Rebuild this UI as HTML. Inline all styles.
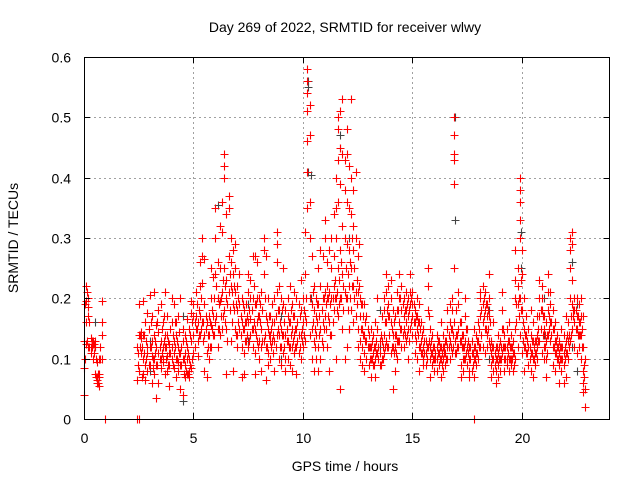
<!DOCTYPE html>
<html><head><meta charset="utf-8"><style>
html,body{margin:0;padding:0;background:#fff;}
svg{display:block;font-family:"Liberation Sans",sans-serif;}
</style></head><body>
<svg id="chart" width="640" height="480" viewBox="0 0 640 480" xmlns="http://www.w3.org/2000/svg">
<rect x="0" y="0" width="640" height="480" fill="#fff"/>
<g id="grid"></g>
<g id="gray"></g>
<g id="red"></g>
<rect x="84.5" y="57.5" width="525" height="362" fill="none" stroke="#000" stroke-width="1"/>
<g id="ticks"></g>
<text x="345" y="32" text-anchor="middle" font-size="14" fill="#000">Day 269 of 2022, SRMTID for receiver wlwy</text>
<text x="345" y="471" text-anchor="middle" font-size="14" fill="#000">GPS time / hours</text>
<text x="0" y="0" transform="translate(18,238) rotate(-90)" text-anchor="middle" font-size="14" fill="#000">SRMTID / TECUs</text>
</svg>
<script>
const xTicks=[0,5,10,15,20];
const yTicks=[0,0.1,0.2,0.3,0.4,0.5,0.6];
const yTickLabels=["0","0.1","0.2","0.3","0.4","0.5","0.6"];
const redHours=[0.0,0.1,0.2,0.3,0.4,0.5,0.6,0.7,0.8,0.96,
2.4,2.5,2.6,2.7,2.8,2.9,3.0,3.1,3.2,3.3,3.4,3.5,3.6,3.7,3.8,3.9,4.0,4.1,4.2,4.3,4.4,4.5,4.6,4.7,4.8,4.9,
5.0,5.1,5.2,5.3,5.4,5.5,5.6,5.7,5.8,5.9,6.0,6.1,6.2,6.3,6.4,6.5,6.6,6.7,6.8,6.9,
7.0,7.1,7.2,7.3,7.4,7.5,7.6,7.7,7.8,7.9,8.0,8.1,8.2,8.3,8.4,8.5,8.6,8.7,8.8,8.9,
9.0,9.1,9.2,9.3,9.4,9.5,9.6,9.7,9.8,9.9,10.0,10.1,10.2,10.3,10.4,10.5,10.6,10.7,10.8,10.9,
11.0,11.1,11.2,11.3,11.4,11.5,11.6,11.7,11.8,11.9,12.0,12.1,12.2,12.3,12.4,12.5,12.6,12.7,12.8,12.9,
13.0,13.1,13.2,13.3,13.4,13.5,13.6,13.7,13.8,13.9,14.0,14.1,14.2,14.3,14.4,14.5,14.6,14.7,14.8,14.9,
15.0,15.1,15.2,15.3,15.4,15.5,15.6,15.7,15.8,15.9,16.0,16.1,16.2,16.3,16.4,16.5,16.6,16.7,16.8,16.9,
17.0,17.1,17.2,17.3,17.4,17.5,17.6,17.7,17.8,17.9,18.0,18.1,18.2,18.3,18.4,18.5,18.6,18.7,18.8,18.9,
19.0,19.1,19.2,19.3,19.4,19.5,19.6,19.7,19.8,19.9,20.0,20.1,20.2,20.3,20.4,20.5,20.6,20.7,20.8,20.9,
21.0,21.1,21.2,21.3,21.4,21.5,21.6,21.7,21.8,21.9,22.0,22.1,22.2,22.3,22.4,22.5,22.6,22.7,22.8,22.9];
const redValues=[[0.04,0.085,0.13],[0.22,0.195,0.16,0.125],[0.185,0.2,0.17,0.12],[0.135,0.12,0.11],[0.13,0.1,0.125],[0.12,0.075,0.13],[0.065,0.07,0.06,0.095],[0.075,0.055,0.07,0.1],[0.16,0.14,0.195,0.1],[0],
[0,0.065,0.12],[0,0.19,0.14,0.08],[0.145,0.11,0.135],[0.195,0.075,0.14,0.1],[0.16,0.065,0.09],[0.175,0.11,0.08,0.12],[0.205,0.12,0.09],[0.17,0.105,0.13,0.06],[0.14,0.21,0.1,0.075],[0.155,0.12,0.09,0.035],[0.18,0.11,0.06,0.145],[0.1,0.19,0.13,0.085],[0.16,0.1,0.12,0.095],[0.21,0.12,0.075,0.14],[0.14,0.105,0.08,0.17],[0.125,0.055,0.09,0.11],[0.2,0.16,0.12,0.1],[0.19,0.13,0.085,0.11],[0.16,0.1,0.07,0.14],[0.17,0.12,0.095,0.08],[0.2,0.11,0.05,0.09],[0.15,0.1,0.04,0.13],[0.14,0.11,0.07,0.09],[0.165,0.12,0.075,0.1],[0.15,0.08,0.07,0.1],[0.195,0.175,0.085,0.13],
[0.19,0.17,0.11,0.14],[0.17,0.21,0.15],[0.16,0.13,0.105],[0.26,0.22,0.17,0.14],[0.3,0.27,0.225,0.16],[0.265,0.19,0.14,0.08],[0.16,0.11,0.07],[0.17,0.14,0.1],[0.25,0.2,0.155,0.12],[0.235,0.17,0.14],[0.35,0.3,0.24,0.16],[0.26,0.2,0.15,0.12],[0.32,0.25,0.195,0.14],[0.36,0.31,0.21,0.15],[0.44,0.42,0.4,0.25,0.18],[0.34,0.23,0.2,0.15,0.075],[0.37,0.35,0.27,0.21],[0.3,0.26,0.22,0.13],[0.28,0.24,0.19,0.08],[0.29,0.25,0.21,0.15],
[0.22,0.18,0.14,0.12],[0.24,0.19,0.15],[0.2,0.16,0.12,0.07],[0.18,0.15,0.11,0.075],[0.19,0.16,0.13],[0.24,0.21,0.16,0.12],[0.23,0.2,0.165,0.14],[0.27,0.2,0.15,0.12],[0.27,0.19,0.15,0.11,0.075],[0.26,0.2,0.16,0.13],[0.2,0.17,0.13,0.1],[0.21,0.15,0.12,0.08],[0.3,0.28,0.24,0.13],[0.27,0.17,0.12,0.065],[0.2,0.15,0.11,0.09],[0.17,0.14,0.13,0.1],[0.19,0.16,0.13],[0.2,0.16,0.13,0.08],[0.31,0.29,0.26,0.21,0.14],[0.22,0.18,0.14,0.1],
[0.2,0.15,0.12,0.09],[0.25,0.19,0.14,0.11],[0.18,0.14,0.1,0.08],[0.2,0.17,0.13,0.1],[0.22,0.16,0.12,0.09],[0.19,0.15,0.12,0.08],[0.21,0.17,0.14,0.11],[0.2,0.15,0.12,0.075],[0.19,0.14,0.11],[0.23,0.18,0.14,0.1],[0.2,0.16,0.12],[0.31,0.24,0.17,0.13],[0.58,0.56,0.54,0.51,0.46,0.41,0.35],[0.52,0.47,0.36,0.3,0.2,0.14],[0.27,0.19,0.15,0.1],[0.22,0.18,0.13,0.08],[0.2,0.17,0.14,0.1],[0.25,0.19,0.12,0.08],[0.28,0.22,0.15,0.1],[0.27,0.2,0.16,0.12],
[0.33,0.3,0.21,0.17],[0.26,0.22,0.2,0.12],[0.28,0.21,0.16,0.08],[0.3,0.25,0.2,0.14],[0.34,0.27,0.22,0.18],[0.4,0.35,0.3,0.2,0.1],[0.5,0.48,0.43,0.36,0.25,0.17],[0.51,0.45,0.39,0.28,0.2,0.05],[0.53,0.44,0.32,0.24,0.15],[0.43,0.38,0.3,0.21,0.1],[0.48,0.44,0.36,0.29,0.2,0.12],[0.42,0.35,0.28,0.22,0.15],[0.53,0.4,0.34,0.25,0.18],[0.38,0.32,0.28,0.22,0.16],[0.41,0.3,0.21,0.17],[0.27,0.21,0.15,0.12],[0.2,0.17,0.13,0.1],[0.19,0.15,0.12,0.09],[0.19,0.14,0.11,0.08],[0.17,0.13,0.1],
[0.14,0.12,0.09],[0.15,0.12,0.1,0.07],[0.14,0.11,0.09],[0.16,0.12,0.1,0.07],[0.2,0.15,0.11],[0.13,0.11,0.09],[0.17,0.13,0.1],[0.2,0.18,0.14,0.11],[0.24,0.21,0.16,0.13],[0.22,0.19,0.17,0.12],[0.23,0.2,0.16,0.11],[0.18,0.14,0.12,0.05],[0.17,0.14,0.12,0.08],[0.21,0.18,0.13,0.1],[0.24,0.2,0.16,0.13],[0.22,0.18,0.15,0.12],[0.2,0.17,0.15,0.12],[0.21,0.18,0.16,0.13],[0.2,0.17,0.15,0.1],[0.24,0.21,0.19,0.15],
[0.21,0.19,0.17,0.14],[0.18,0.16,0.14,0.11],[0.2,0.17,0.15,0.1],[0.19,0.16,0.12,0.08],[0.16,0.13,0.11],[0.15,0.12,0.1,0.09],[0.13,0.11,0.09],[0.25,0.22,0.18,0.12],[0.15,0.12,0.1,0.07],[0.14,0.11,0.09],[0.12,0.1,0.08],[0.14,0.12,0.1,0.08],[0.13,0.11,0.09],[0.16,0.12,0.1,0.07],[0.14,0.12,0.1,0.08],[0.13,0.11,0.09],[0.18,0.15,0.12,0.1],[0.19,0.16,0.13,0.1],[0.2,0.18,0.15,0.11],[0.5,0.47,0.44,0.43,0.39,0.25,0.16],
[0.18,0.14,0.11],[0.21,0.19,0.15,0.12],[0.16,0.13,0.09,0.07],[0.14,0.12,0.1,0.08],[0.2,0.17,0.13,0.1],[0.15,0.12,0.09],[0.12,0.1,0.08,0.07],[0.13,0.11,0.08],[0.15,0.12,0.1,0.07,0],[0.14,0.11,0.09],[0.16,0.13,0.1],[0.21,0.2,0.17,0.12],[0.22,0.19,0.16,0.12],[0.21,0.18,0.15,0.11],[0.19,0.17,0.14,0.12],[0.24,0.2,0.17,0.13],[0.13,0.11,0.09,0.07],[0.16,0.12,0.1,0.08],[0.12,0.1,0.08,0.06],[0.14,0.11,0.09,0.07],
[0.13,0.1,0.08],[0.21,0.18,0.15,0.11],[0.14,0.12,0.1,0.08],[0.15,0.12,0.1,0.09],[0.16,0.13,0.1,0.08],[0.14,0.12,0.1,0.09],[0.13,0.11,0.08],[0.28,0.23,0.2,0.15,0.1],[0.25,0.22,0.19,0.12],[0.4,0.38,0.36,0.33,0.3,0.2,0.14],[0.28,0.24,0.18,0.11],[0.2,0.15,0.12,0.08],[0.17,0.14,0.11],[0.15,0.12,0.09],[0.18,0.14,0.11,0.08],[0.16,0.13,0.1,0.07],[0.13,0.11,0.09],[0.17,0.14,0.12,0.1],[0.23,0.2,0.17,0.13],[0.22,0.2,0.18,0.11],
[0.17,0.15,0.12,0.1],[0.16,0.13,0.1,0.07],[0.24,0.21,0.18,0.14],[0.21,0.19,0.16,0.13],[0.18,0.15,0.12,0.09],[0.16,0.13,0.11,0.08],[0.14,0.12,0.1],[0.13,0.11,0.09,0.06],[0.15,0.12,0.1,0.08],[0.14,0.11,0.09,0.06],[0.17,0.13,0.11,0.07],[0.16,0.13,0.1],[0.3,0.28,0.25,0.2,0.13],[0.31,0.29,0.23,0.19,0.15],[0.2,0.18,0.16,0.12],[0.2,0.17,0.15,0.11],[0.19,0.16,0.14,0.12],[0.2,0.17,0.14,0.1],[0.17,0.12,0.08,0.06,0.045],[0.1,0.05,0.02]];
const redHoursB=[0.05,0.15,0.25,0.35,0.45,0.55,0.65,0.75,
2.45,2.55,2.65,2.75,2.85,2.95,3.05,3.15,3.25,3.35,3.45,3.55,3.65,3.75,3.85,3.95,4.05,4.15,4.25,4.35,4.45,4.55,4.65,4.75,4.85,4.95,
5.05,5.15,5.25,5.35,5.45,5.55,5.65,5.75,5.85,5.95,6.05,6.15,6.25,6.35,6.45,6.55,6.65,6.75,6.85,6.95,
7.05,7.15,7.25,7.35,7.45,7.55,7.65,7.75,7.85,7.95,8.05,8.15,8.25,8.35,8.45,8.55,8.65,8.75,8.85,8.95,
9.05,9.15,9.25,9.35,9.45,9.55,9.65,9.75,9.85,9.95,10.05,10.15,10.45,10.55,10.65,10.75,10.85,10.95,
11.05,11.15,11.25,11.35,11.45,11.55,11.65,11.75,11.85,11.95,12.05,12.15,12.25,12.35,12.45,12.55,12.65,12.75,12.85,12.95,
13.05,13.15,13.25,13.35,13.45,13.55,13.65,13.75,13.85,13.95,14.05,14.15,14.25,14.35,14.45,14.55,14.65,14.75,14.85,14.95,
15.05,15.15,15.25,15.35,15.45,15.55,15.65,15.75,15.85,15.95,16.05,16.15,16.25,16.35,16.45,16.55,16.65,16.75,16.85,16.95,
17.05,17.15,17.25,17.35,17.45,17.55,17.65,17.75,17.85,17.95,18.05,18.15,18.25,18.35,18.45,18.55,18.65,18.75,18.85,18.95,
19.05,19.15,19.25,19.35,19.45,19.55,19.65,19.75,19.85,19.95,20.05,20.15,20.25,20.35,20.45,20.55,20.65,20.75,20.85,20.95,
21.05,21.15,21.25,21.35,21.45,21.55,21.65,21.75,21.85,21.95,22.05,22.15,22.25,22.35,22.45,22.55,22.65,22.75,22.85];
const redValuesB=[[0.1,0.19],[0.21,0.13],[0.16,0.12],[0.13,0.12],[0.125,0.11],[0.1,0.07],[0.06,0.075],[0.12,0.1],
[0.11,0.09],[0.14,0.12],[0.12,0.07],[0.14,0.11],[0.13,0.1],[0.15,0.09],[0.12,0.16],[0.1,0.085],[0.13,0.11],[0.09,0.16],[0.12,0.1],[0.11,0.15],[0.17,0.13],[0.1,0.12],[0.09,0.13],[0.11,0.15],[0.14,0.09],[0.12,0.16],[0.1,0.13],[0.11,0.145],[0.09,0.12],[0.1,0.075],[0.13,0.08],[0.11,0.075],[0.09,0.14],[0.1,0.16],
[0.16,0.12],[0.15,0.19],[0.18,0.14],[0.2,0.15],[0.16,0.13],[0.17,0.15],[0.14,0.12],[0.16,0.12],[0.15,0.18],[0.14,0.2],[0.17,0.22],[0.15,0.19],[0.2,0.17],[0.23,0.17],[0.22,0.16],[0.19,0.13],[0.24,0.18],[0.21,0.16],[0.18,0.22],[0.19,0.14],
[0.16,0.2],[0.17,0.14],[0.15,0.19],[0.16,0.13],[0.17,0.14],[0.18,0.13],[0.15,0.18],[0.16,0.22],[0.19,0.14],[0.17,0.12],[0.16,0.19],[0.13,0.18],[0.14,0.2],[0.12,0.16],[0.14,0.17],[0.12,0.15],[0.14,0.11],[0.17,0.12],[0.18,0.15],[0.16,0.12],
[0.14,0.18],[0.16,0.12],[0.15,0.13],[0.12,0.16],[0.14,0.18],[0.13,0.17],[0.15,0.12],[0.13,0.16],[0.17,0.12],[0.15,0.13],[0.14,0.18],[0.16,0.2],[0.16,0.21],[0.15,0.12],[0.16,0.19],[0.14,0.17],[0.13,0.18],[0.15,0.2],
[0.19,0.15],[0.17,0.2],[0.19,0.14],[0.2,0.16],[0.2,0.23],[0.21,0.18],[0.19,0.23],[0.2,0.26],[0.22,0.18],[0.2,0.25],[0.18,0.24],[0.2,0.26],[0.22,0.3],[0.2,0.25],[0.23,0.19],[0.22,0.29],[0.19,0.15],[0.17,0.14],[0.16,0.13],[0.15,0.12],
[0.12,0.1],[0.13,0.1],[0.12,0.09],[0.13,0.11],[0.12,0.1],[0.14,0.09],[0.12,0.1],[0.16,0.12],[0.18,0.12],[0.17,0.14],[0.15,0.12],[0.16,0.11],[0.14,0.11],[0.18,0.13],[0.2,0.15],[0.19,0.14],[0.18,0.14],[0.19,0.14],[0.18,0.13],[0.2,0.16],
[0.19,0.16],[0.17,0.13],[0.16,0.14],[0.15,0.12],[0.14,0.11],[0.13,0.11],[0.12,0.1],[0.17,0.13],[0.13,0.11],[0.12,0.1],[0.11,0.1],[0.13,0.11],[0.12,0.1],[0.11,0.09],[0.12,0.11],[0.13,0.1],[0.14,0.12],[0.15,0.12],[0.14,0.12],[0.13,0.11],
[0.14,0.12],[0.16,0.13],[0.14,0.12],[0.12,0.1],[0.15,0.11],[0.13,0.11],[0.12,0.1],[0.11,0.09],[0.12,0.1],[0.13,0.11],[0.15,0.12],[0.18,0.14],[0.2,0.17],[0.19,0.15],[0.18,0.15],[0.16,0.12],[0.12,0.1],[0.11,0.09],[0.12,0.1],[0.12,0.1],
[0.12,0.1],[0.15,0.12],[0.12,0.1],[0.13,0.11],[0.12,0.1],[0.12,0.1],[0.11,0.09],[0.19,0.16],[0.2,0.17],[0.23,0.18],[0.16,0.13],[0.14,0.12],[0.13,0.11],[0.12,0.1],[0.13,0.11],[0.12,0.1],[0.13,0.11],[0.15,0.13],[0.18,0.15],[0.17,0.14],
[0.14,0.12],[0.14,0.11],[0.17,0.15],[0.16,0.14],[0.15,0.12],[0.13,0.11],[0.12,0.1],[0.12,0.1],[0.12,0.1],[0.12,0.1],[0.14,0.11],[0.14,0.12],[0.17,0.14],[0.18,0.17],[0.18,0.15],[0.17,0.14],[0.16,0.14],[0.15,0.12],[0.09,0.07]];
const grayHours=[0.5,3.0,4.5,6.1,7.5,9.0,10.25,10.35,11.7,12.1,13.5,15.5,16.95,18.5,19.95,21.0,22.3,22.5];
const grayValues=[[0.16,0.12],[0.13,0.08],[0.03,0.17],[0.355,0.2],[0.13,0.19],[0.17,0.1],[0.56,0.55,0.41],[0.405,0.2],[0.47,0.45,0.2],[0.3,0.15],[0.12,0.18],[0.15,0.1],[0.5,0.33],[0.18,0.1],[0.31,0.25],[0.14,0.2],[0.26,0.12],[0.19,0.08]];

const X0=84,X1=609.5,Y0=419,Y1=57,XMAX=24,YMAX=0.6;
function xs(h){return X0+(X1-X0)*h/XMAX;}
function ys(v){return Y0-(Y0-Y1)*v/YMAX;}
const NS="http://www.w3.org/2000/svg";
function el(tag,attrs,parent){const e=document.createElementNS(NS,tag);for(const k in attrs)e.setAttribute(k,attrs[k]);parent.appendChild(e);return e;}
const grid=document.getElementById('grid'),ticks=document.getElementById('ticks');
xTicks.forEach((t,i)=>{
  const x=Math.round(xs(t))+0.5;
  if(t>0){const g=el('line',{x1:x,x2:x,y1:Y1,y2:Y0,stroke:'#a0a0a0','stroke-dasharray':'2,3'},grid);
  
  }
  const a=el('line',{x1:x,x2:x,y1:Y0,y2:Y0-6,stroke:'#000'},ticks);
  
  
  const b=el('line',{x1:x,x2:x,y1:Y1,y2:Y1+6,stroke:'#000'},ticks);
  
  
  const l=el('text',{x:x,y:443,'text-anchor':'middle','font-size':'14',fill:'#000'},ticks);
  l.textContent=String(t);
  
  
});
yTicks.forEach((t,i)=>{
  const y=Math.round(ys(t))+0.5;
  if(t>0&&t<YMAX){const g=el('line',{x1:X0,x2:X1,y1:y,y2:y,stroke:'#a0a0a0','stroke-dasharray':'2,3'},grid);
  
  }
  const a=el('line',{x1:X0,x2:X0+6,y1:y,y2:y,stroke:'#000'},ticks);
  
  
  const b=el('line',{x1:X1,x2:X1-6,y1:y,y2:y,stroke:'#000'},ticks);
  
  
  const l=el('text',{x:71,y:y+5,'text-anchor':'end','font-size':'14',fill:'#000'},ticks);
  l.textContent=yTickLabels[i];
  
  
});
function plus(h,v,color,parent,name){
  const x=Math.round(xs(h))+0.5,y=Math.round(ys(v))+0.5;
  const p=el('path',{d:`M${x-4},${y}H${x+4}M${x},${y-4}V${y+4}`,stroke:color,'stroke-width':'1.1',fill:'none'},parent);
  
  
}
const grayG=document.getElementById('gray'),redG=document.getElementById('red');
grayHours.forEach((h,i)=>grayValues[i].forEach(v=>plus(h,v,'#444',grayG,'gray-point')));
redHours.forEach((h,i)=>redValues[i].forEach(v=>plus(h,v,'#ff0000',redG,'red-point')));
redHoursB.forEach((h,i)=>redValuesB[i].forEach(v=>plus(h,v,'#ff0000',redG,'red-point')));
</script>
</body></html>
